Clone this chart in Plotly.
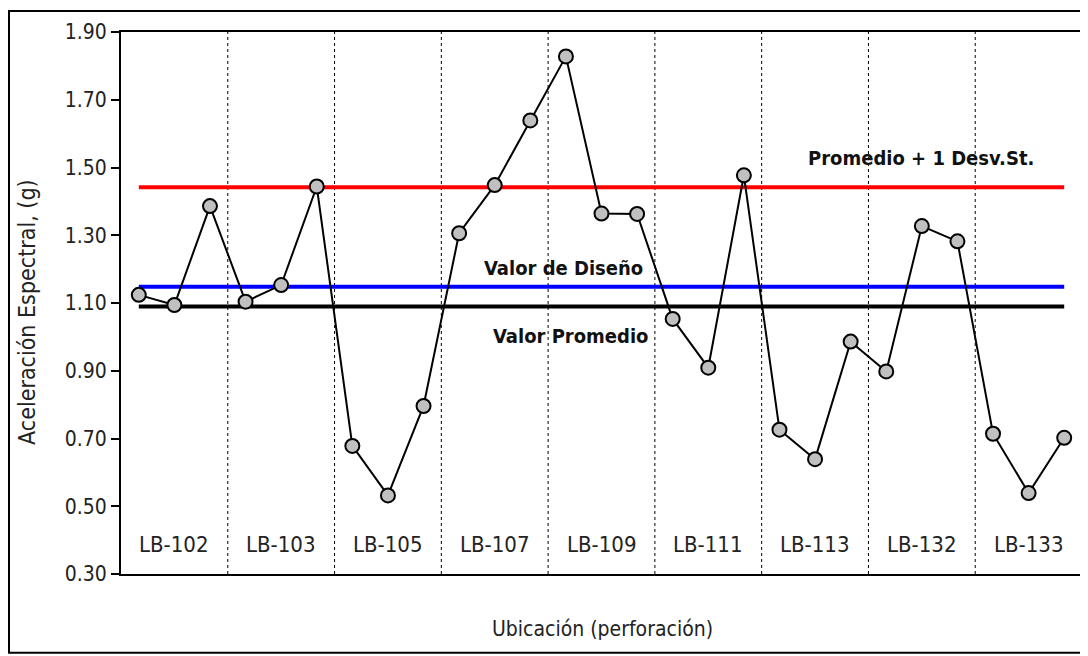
import plotly.graph_objects as go

groups = ["LB-102", "LB-103", "LB-105", "LB-107", "LB-109", "LB-111", "LB-113", "LB-132", "LB-133"]
values = [1.124, 1.094, 1.386,
          1.104, 1.153, 1.444,
          0.678, 0.532, 0.796,
          1.306, 1.448, 1.639,
          1.828, 1.364, 1.363,
          1.053, 0.909, 1.477,
          0.726, 0.639, 0.986,
          0.898, 1.327, 1.282,
          0.714, 0.539, 0.702]
points_per_group = 3
promedio_mas_desv = 1.442
valor_diseno = 1.148
valor_promedio = 1.090
y_ticks = [0.30, 0.50, 0.70, 0.90, 1.10, 1.30, 1.50, 1.70, 1.90]

FONT = "Liberation Sans Narrow, DejaVu Sans Condensed, Arial Narrow, sans-serif"

n = len(values)
xs = list(range(n))

# page offset (body margin) and plot-area geometry in figure pixels
OFF = 8
L, T, W, H = 121 - OFF, 30 - OFF, 961, 544
FIG_W, FIG_H = 1088, 656


def px(x):
    return (x - OFF - L) / W


def py(y):
    return 1 - (y - OFF - T) / H


def fx(x):  # figure-pixel -> paper
    return (x - L) / W


def fy(y):
    return 1 - (y - T) / H


fig = go.Figure()

for val, col in [(promedio_mas_desv, "#ff0000"), (valor_diseno, "#0000ff"), (valor_promedio, "#000000")]:
    fig.add_trace(go.Scatter(x=[0, n - 1], y=[val, val], mode="lines",
                             line=dict(color=col, width=4), hoverinfo="skip", showlegend=False))

fig.add_trace(go.Scatter(x=xs, y=values, mode="lines+markers",
                         line=dict(color="black", width=2),
                         marker=dict(size=14, color="#c0c0c0", line=dict(color="black", width=2)),
                         showlegend=False))

shapes = []
for g in range(1, len(groups)):
    xb = g * points_per_group - 0.5
    shapes.append(dict(type="line", xref="x", yref="paper", x0=xb, x1=xb, y0=0, y1=1,
                       line=dict(color="black", width=1, dash="dot"), layer="below"))
shapes.append(dict(type="rect", xref="paper", yref="paper", x0=fx(1), x1=fx(1100), y0=py(653), y1=fy(1),
                   line=dict(color="black", width=2)))

annotations = []
for g, name in enumerate(groups):
    annotations.append(dict(x=g * points_per_group + 1, y=0.388, xref="x", yref="y", text=name,
                            showarrow=False, font=dict(size=22, color="#222"),
                            xanchor="center", yanchor="middle"))

bold = dict(size=20, color="#111")
common = dict(xref="paper", yref="paper", showarrow=False, xanchor="center", yanchor="middle")
annotations += [
    dict(x=px(921), y=py(156), text="<b>Promedio + 1 Desv.St.</b>", font=bold, **common),
    dict(x=px(563), y=py(267), text="<b>Valor de Diseño</b>", font=bold, **common),
    dict(x=px(570), y=py(335), text="<b>Valor Promedio</b>", font=bold, **common),
    dict(x=px(27), y=py(311), text="Aceleración Espectral, (g)", textangle=-90,
         font=dict(size=23, color="#222"), **common),
    dict(x=px(602), y=py(629), text="Ubicación (perforación)",
         font=dict(size=21, color="#222"), **common),
]

fig.update_layout(
    width=FIG_W, height=FIG_H,
    margin=dict(l=L, r=FIG_W - L - W, t=T, b=FIG_H - T - H),
    paper_bgcolor="white", plot_bgcolor="white",
    font=dict(family=FONT, size=21, color="#222"),
    shapes=shapes, annotations=annotations,
    xaxis=dict(range=[-0.5, n - 0.5], showticklabels=False, ticks="", showgrid=False,
               zeroline=False, showline=True, linecolor="black", linewidth=2, mirror=True, fixedrange=True),
    yaxis=dict(range=[0.30, 1.90], tickvals=y_ticks, ticktext=[f"{v:.2f}" for v in y_ticks],
               ticks="outside", ticklen=8, tickwidth=2, tickcolor="black",
               showgrid=False, zeroline=False, showline=True, linecolor="black", linewidth=2,
               mirror=True, fixedrange=True, tickfont=dict(size=21, color="#222")),
)

fig.write_html("out.html")
